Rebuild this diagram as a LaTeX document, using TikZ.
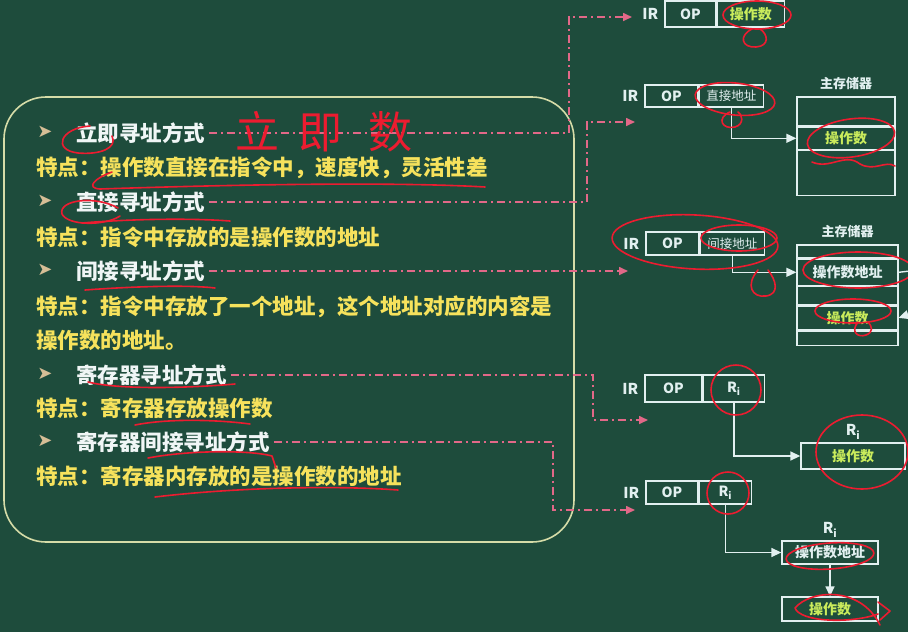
\documentclass[tikz,border=0pt]{standalone}
\usepackage{fontspec}
\setmainfont{Noto Sans CJK SC}
\newfontfamily\symfont{DejaVu Sans}
\usetikzlibrary{arrows.meta, positioning}
\definecolor{board}{RGB}{30,76,60}
\definecolor{frame}{RGB}{214,220,168}
\definecolor{headwhite}{RGB}{240,246,246}
\definecolor{descyellow}{RGB}{246,226,92}
\definecolor{bullettan}{RGB}{214,190,150}
\definecolor{linkpink}{RGB}{226,104,136}
\definecolor{boxline}{RGB}{226,240,240}
\definecolor{opgreen}{RGB}{202,236,92}
\definecolor{inkred}{RGB}{236,28,48}

\begin{document}
\begin{tikzpicture}[
  x=1pt, y=-1pt,
  head/.style={anchor=west, inner sep=1pt, text=headwhite,
    font=\fontsize{21.5}{22}\selectfont\bfseries},
  desc/.style={anchor=west, inner sep=1pt, text=descyellow,
    font=\fontsize{21.5}{22}\selectfont\bfseries},
  bullet/.style={text=bullettan, inner sep=0pt,
    font=\symfont\fontsize{18}{18}\selectfont},
  link/.style={draw=linkpink, line width=1.6pt,
    dash pattern=on 8pt off 4pt on 2pt off 4pt,
    -{Triangle[length=9pt,width=8pt]}},
  cell/.style={draw=boxline, line width=1.3pt, inner sep=0pt,
    text=boxline, font=\fontsize{14}{14}\selectfont\bfseries},
  tag/.style={text=boxline, inner sep=0pt,
    font=\fontsize{15}{15}\selectfont\bfseries},
  wire/.style={draw=boxline, line width=1.4pt,
    -{Triangle[length=10pt,width=9pt]}},
  scribble/.style={draw=inkred, line width=1.6pt,
    line cap=round, line join=round}
]
  \fill[board] (0,0) rectangle (908,632);
  \useasboundingbox (0,0) rectangle (908,632);

  % Left panel
  \draw[frame, line width=1.6pt, rounded corners=42pt] (4,97) rectangle (574,542);

  \node[bullet] (b1) at (45,132) {➤};
  \node[head] (h1) at (75,133) {立即寻址方式};
  \node[desc] (d1) at (35,168) {特点：操作数直接在指令中，速度快，灵活性差};
  \node[bullet] (b2) at (45,201) {➤};
  \node[head] (h2) at (75,202) {直接寻址方式};
  \node[desc] (d2) at (35,237) {特点：指令中存放的是操作数的地址};
  \node[bullet] (b3) at (45,270) {➤};
  \node[head] (h3) at (75,271) {间接寻址方式};
  \node[desc] (d3) at (35,307) {特点：指令中存放了一个地址，这个地址对应的内容是};
  \node[desc] (d3b) at (35,340) {操作数的地址。};
  \node[bullet] (b4) at (45,374) {➤};
  \node[head] (h4) at (75,375) {寄存器寻址方式};
  \node[desc] (d4) at (35,408) {特点：寄存器存放操作数};
  \node[bullet] (b5) at (45,441) {➤};
  \node[head] (h5) at (75,442) {寄存器间接寻址方式};
  \node[desc] (d5) at (35,476) {特点：寄存器内存放的是操作数的地址};

  % Immediate
  \node[cell, minimum width=51pt, minimum height=26pt] (op1) at (690.5,14) {OP};
  \node[cell, minimum width=67pt, minimum height=26pt, right=0pt of op1,
        text=opgreen] (val1) {操作数};
  \node[tag, left=6pt of op1] (ir1) {IR};

  % Direct
  \node[cell, minimum width=53pt, minimum height=22pt] (op2) at (671.5,96) {OP};
  \node[cell, minimum width=64pt, minimum height=22pt, right=0pt of op2,
        font=\fontsize{12.5}{12.5}\selectfont] (val2) {直接地址};
  \node[tag, left=6pt of op2] (ir2) {IR};
  \node[cell, minimum width=98pt, minimum height=29pt] (m1a) at (846,111.5) {};
  \node[cell, minimum width=98pt, minimum height=22pt, below=0pt of m1a,
        text=opgreen] (m1b) {操作数};
  \node[cell, minimum width=98pt, minimum height=45pt, below=0pt of m1b] (m1c) {};
  \node[tag, above=6pt of m1a, font=\fontsize{13}{13}\selectfont\bfseries] (mem1) {主存储器};
  \draw[wire] (val2.south) |- (m1b.west);

  % Indirect
  \node[cell, minimum width=53pt, minimum height=23pt] (op3) at (672.5,243.5) {OP};
  \node[cell, minimum width=64pt, minimum height=23pt, right=0pt of op3,
        font=\fontsize{12.5}{12.5}\selectfont] (val3) {间接地址};
  \node[tag, left=6pt of op3] (ir3) {IR};
  \node[cell, minimum width=101pt, minimum height=13pt] (m2a) at (847.5,251.5) {};
  \node[cell, minimum width=101pt, minimum height=26pt, below=0pt of m2a] (m2b) {操作数地址};
  \node[cell, minimum width=101pt, minimum height=18pt, below=0pt of m2b] (m2c) {};
  \node[cell, minimum width=101pt, minimum height=24pt, below=0pt of m2c,
        text=opgreen] (m2d) {操作数};
  \node[cell, minimum width=101pt, minimum height=14pt, below=0pt of m2d] (m2e) {};
  \node[tag, above=6pt of m2a, font=\fontsize{13}{13}\selectfont\bfseries] (mem2) {主存储器};
  \coordinate (m2out) at (910,271);
  \coordinate (m2in) at (910,314);
  \draw[wire] (val3.south) |- (m2b.west);
  \draw[boxline, line width=1.4pt] (m2b.east) -- (m2out);
  \draw[wire] (m2in) -- (m2d.east);

  % Register
  \node[cell, minimum width=57pt, minimum height=27pt] (op4) at (673.5,388.5) {OP};
  \node[cell, minimum width=61pt, minimum height=27pt, right=0pt of op4] (val4) {R\textsubscript{i}};
  \node[tag, left=6pt of op4] (ir4) {IR};
  \node[cell, minimum width=104pt, minimum height=26pt, text=opgreen] (r4) at (853,456) {操作数};
  \node[tag, above=3pt of r4] (reg4) {R\textsubscript{i}};
  \draw[wire] (val4.south) |- (r4.west);

  % Register indirect
  \node[cell, minimum width=52pt, minimum height=23pt] (op5) at (672,492.5) {OP};
  \node[cell, minimum width=52pt, minimum height=23pt, right=0pt of op5] (val5) {R\textsubscript{i}};
  \node[tag, left=6pt of op5] (ir5) {IR};
  \node[cell, minimum width=96pt, minimum height=23pt] (r5a) at (830,552.5) {操作数地址};
  \node[tag, above=3pt of r5a] (reg5) {R\textsubscript{i}};
  \node[cell, minimum width=96pt, minimum height=24pt, text=opgreen] (r5b) at (830,609) {操作数};
  \draw[wire] (val5.south) |- (r5a.west);
  \draw[wire] (r5a.south) -- (r5b.north);

  % Dash-dot links from the list
  \coordinate (k1) at (569,17);  \coordinate (t1) at (632,17);
  \coordinate (k2) at (587,122); \coordinate (t2) at (635,122);
  \coordinate (t3) at (628,272);
  \coordinate (k4) at (593,420); \coordinate (t4) at (648,420);
  \coordinate (k5) at (553,510); \coordinate (t5) at (635,510);
  \draw[link] ([xshift=3pt]h1.east) -| (k1) -- (t1);
  \draw[link] ([xshift=3pt]h2.east) -| (k2) -- (t2);
  \draw[link] ([xshift=3pt]h3.east) -- (h3.east -| t3);
  \draw[link] ([xshift=3pt]h4.east) -| (k4) -- (t4);
  \draw[link] ([xshift=3pt]h5.east) -| (k5) -- (t5);

  % Hand-written marks
  \node[text=inkred, inner sep=0pt, font=\fontsize{44}{44}\selectfont] (note) at (324,132)
    {立\hspace{20pt}即\hspace{26pt}数};
  \draw[scribble] (90,126) .. controls (60,128) and (52,150) .. (78,153)
    .. controls (100,155) and (118,148) .. (112,136);
  \draw[scribble] (112,172) .. controls (95,178) and (85,188) .. (100,189)
    .. controls (250,184) and (400,182) .. (485,187);
  \draw[scribble] (118,208) .. controls (95,195) and (58,200) .. (62,214)
    .. controls (68,226) and (105,226) .. (120,216);
  \draw[scribble] (82,223) .. controls (130,219) and (190,218) .. (230,221);
  \draw[scribble] (85,290) .. controls (140,286) and (190,285) .. (215,288);
  \draw[scribble] (88,382) .. controls (120,390) and (190,388) .. (235,384);
  \draw[scribble] (135,425) .. controls (170,418) and (220,420) .. (250,424);
  \draw[scribble] (148,458) .. controls (190,450) and (250,450) .. (272,456) -- (276,468);
  \draw[scribble] (155,497) .. controls (230,488) and (330,485) .. (398,490);

  \draw[scribble] (757,15) ellipse [x radius=34pt, y radius=14pt];
  \draw[scribble] (752,29) .. controls (738,36) and (742,48) .. (756,47)
    .. controls (770,46) and (768,34) .. (760,29);
  \draw[scribble, rotate around={-6:(735,99)}] (735,99) ellipse [x radius=40pt, y radius=16pt];
  \draw[scribble] (730,112) .. controls (716,118) and (722,130) .. (735,127)
    .. controls (745,124) and (742,114) .. (738,112);
  \draw[scribble, rotate around={8:(851,138)}] (851,138) ellipse [x radius=44pt, y radius=19pt];
  \draw[scribble] (812,162) .. controls (830,170) and (845,152) .. (860,164)
    .. controls (875,172) and (885,160) .. (895,166);
  \draw[scribble, rotate around={-3:(695,242)}] (695,242) ellipse [x radius=83pt, y radius=27pt];
  \draw[scribble] (739,238) ellipse [x radius=38pt, y radius=13pt];
  \draw[scribble] (758,270) .. controls (745,285) and (752,298) .. (766,296)
    .. controls (780,294) and (776,280) .. (768,270);
  \draw[scribble] (858,270) ellipse [x radius=55pt, y radius=18pt];
  \draw[scribble] (853,311) ellipse [x radius=38pt, y radius=12pt];
  \draw[scribble] (858,322) .. controls (850,332) and (858,338) .. (866,335)
    .. controls (874,332) and (872,326) .. (868,322);
  \draw[scribble] (736,390) circle [radius=25pt];
  \draw[scribble] (862,452) ellipse [x radius=46pt, y radius=37pt];
  \draw[scribble] (728,493) circle [radius=21pt];
  \draw[scribble, rotate around={4:(830,556)}] (830,556) ellipse [x radius=44pt, y radius=13pt];
  \draw[scribble] (880,625) .. controls (860,585) and (810,590) .. (795,608)
    .. controls (800,622) and (850,624) .. (878,614);
  \draw[scribble] (878,602) -- (890,611) -- (880,620);
\end{tikzpicture}
\end{document}
